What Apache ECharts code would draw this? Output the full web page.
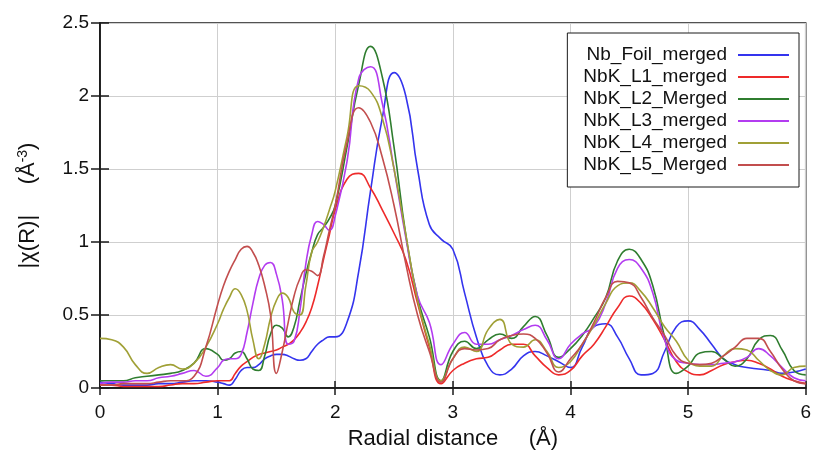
<!DOCTYPE html>
<html>
<head>
<meta charset="utf-8">
<script src="https://cdn.jsdelivr.net/npm/echarts@6/dist/echarts.min.js"></script>
<style>
html,body{margin:0;padding:0;background:#fff;}
#chart{width:814px;height:455px;}
</style>
</head>
<body>
<div id="chart"></div>
<script>
// radial distance (Å), finer in the 1-2 Å range
const radius = [0,0.1,0.2,0.3,0.4,0.5,0.6,0.7,0.8,0.9,
   1.0,1.05,1.1,1.15,1.2,1.25,1.3,1.35,1.4,1.45,1.5,1.55,1.6,1.65,1.7,1.75,1.8,1.85,1.9,1.95,2.0,
   2.1,2.2,2.3,2.4,2.5,2.6,2.7,2.8,2.9,
   3.0,3.1,3.2,3.3,3.4,3.5,3.6,3.7,3.8,3.9,
   4.0,4.1,4.2,4.3,4.4,4.5,4.6,4.7,4.8,4.9,
   5.0,5.1,5.2,5.3,5.4,5.5,5.6,5.7,5.8,5.9,6.0];

const nbFoil = [0.04,0.03,0.02,0.02,0.02,0.03,0.03,0.04,0.05,0.05,
   0.04,0.03,0.02,0.06,0.12,0.14,0.14,0.16,0.20,0.22,0.23,0.23,0.22,0.20,0.19,0.20,0.25,0.30,0.33,0.35,0.35,
   0.45,0.80,1.35,1.85,2.16,2.00,1.50,1.12,1.02,
   0.95,0.65,0.35,0.15,0.09,0.13,0.22,0.25,0.22,0.18,
   0.14,0.28,0.42,0.44,0.35,0.20,0.09,0.10,0.25,0.42,
   0.46,0.40,0.30,0.20,0.16,0.14,0.13,0.12,0.10,0.11,0.13];

const nbkL1 = [0.02,0.02,0.01,0.01,0.01,0.01,0.02,0.03,0.03,0.04,
   0.05,0.05,0.05,0.10,0.15,0.18,0.21,0.23,0.24,0.25,0.26,0.28,0.30,0.33,0.38,0.45,0.55,0.70,0.88,1.05,1.22,
   1.43,1.47,1.37,1.22,1.06,0.88,0.58,0.28,0.03,
   0.12,0.17,0.20,0.21,0.26,0.30,0.30,0.22,0.14,0.09,
   0.12,0.22,0.30,0.42,0.55,0.63,0.58,0.47,0.33,0.18,
   0.11,0.09,0.12,0.16,0.18,0.19,0.17,0.13,0.08,0.05,0.03];

const nbkL2 = [0.05,0.05,0.05,0.07,0.08,0.09,0.10,0.12,0.17,0.27,
   0.23,0.19,0.20,0.24,0.25,0.20,0.13,0.12,0.22,0.37,0.43,0.41,0.35,0.42,0.60,0.78,0.93,1.05,1.10,1.16,1.25,
   1.65,2.08,2.34,2.13,1.65,1.05,0.62,0.35,0.05,
   0.25,0.32,0.27,0.33,0.37,0.34,0.42,0.49,0.36,0.21,
   0.27,0.36,0.48,0.62,0.87,0.95,0.88,0.70,0.35,0.10,
   0.15,0.24,0.25,0.20,0.15,0.20,0.33,0.36,0.26,0.12,0.09];

const nbkL3 = [0.03,0.04,0.04,0.05,0.05,0.07,0.08,0.10,0.12,0.08,
   0.14,0.19,0.20,0.20,0.23,0.38,0.58,0.75,0.84,0.86,0.78,0.60,0.30,0.32,0.53,0.85,1.05,1.14,1.12,1.08,1.18,
   1.55,2.12,2.20,1.95,1.50,1.03,0.63,0.45,0.16,
   0.30,0.38,0.30,0.30,0.33,0.36,0.40,0.43,0.33,0.20,
   0.30,0.37,0.42,0.58,0.82,0.88,0.82,0.65,0.33,0.19,
   0.17,0.16,0.16,0.17,0.18,0.21,0.27,0.22,0.14,0.07,0.05];

const nbkL4 = [0.34,0.33,0.28,0.16,0.10,0.14,0.16,0.13,0.17,0.28,
   0.44,0.54,0.62,0.68,0.64,0.53,0.33,0.20,0.30,0.48,0.60,0.65,0.62,0.52,0.50,0.70,0.93,1.00,1.10,1.22,1.35,
   1.72,2.07,2.03,1.85,1.50,1.05,0.60,0.30,0.05,
   0.20,0.28,0.25,0.40,0.47,0.30,0.28,0.33,0.25,0.14,
   0.18,0.30,0.43,0.58,0.70,0.72,0.66,0.55,0.42,0.32,
   0.19,0.15,0.15,0.22,0.27,0.26,0.19,0.12,0.09,0.14,0.15];

const nbkL5 = [0.02,0.02,0.03,0.03,0.03,0.04,0.05,0.05,0.08,0.28,
   0.57,0.70,0.80,0.88,0.95,0.97,0.93,0.84,0.70,0.50,0.10,0.25,0.45,0.63,0.75,0.81,0.80,0.77,0.90,1.08,1.25,
   1.68,1.92,1.82,1.58,1.25,0.85,0.50,0.25,0.04,
   0.20,0.27,0.26,0.27,0.33,0.36,0.37,0.34,0.24,0.11,
   0.20,0.30,0.45,0.62,0.73,0.72,0.62,0.48,0.36,0.22,
   0.17,0.16,0.17,0.22,0.28,0.34,0.34,0.25,0.13,0.05,0.03];

const seriesNames = ['Nb_Foil_merged','NbK_L1_merged','NbK_L2_Merged','NbK_L3_merged','NbK_L4_merged','NbK_L5_Merged'];
const seriesValues = [nbFoil, nbkL1, nbkL2, nbkL3, nbkL4, nbkL5];
const colors = ['#3434ee','#ee2a2a','#2f7d2f','#b33cf0','#a0a036','#c24e4e'];

const font = 'Arial, "Liberation Sans", sans-serif';
const chart = echarts.init(document.getElementById('chart'));

const pairs = (vals)=>radius.map((r,i)=>[r, vals[i]]);

const option = {
   animation: false,
   backgroundColor: '#fff',
   grid: {
      left: 100, right: 6, top: 23, bottom: 67,
      show: true, borderColor: '#1a1a1a', borderWidth: 1.5
   },
   legend: {
      orient: 'vertical',
      align: 'right',
      right: 15,
      top: 33,
      padding: [11, 10, 11, 16],
      itemGap: 0,
      itemWidth: 51,
      itemHeight: 2,
      icon: 'rect',
      backgroundColor: '#fff',
      borderColor: '#1a1a1a',
      borderWidth: 1,
      borderRadius: 0,
      data: seriesNames,
      textStyle: {
         fontFamily: font, fontSize: 19, color: '#111', lineHeight: 22,
         padding: [0, 6, 0, 0]
      }
   },
   xAxis: [
      {
         type: 'value', min: 0, max: 6, interval: 1, position: 'bottom',
         name: 'Radial distance     (Å)', nameLocation: 'middle', nameGap: 40,
         nameTextStyle: { fontFamily: font, fontSize: 22, color: '#111' },
         axisLine: { lineStyle: { color: '#1a1a1a', width: 1.5 } },
         axisTick: { inside: true, length: 7, lineStyle: { color: '#1a1a1a', width: 1.5 } },
         axisLabel: { fontFamily: font, fontSize: 19, color: '#111', margin: 15 },
         splitLine: { show: true, lineStyle: { color: '#cfcfcf', width: 1 } }
      },
      {
         type: 'value', min: 0, max: 6, interval: 1, position: 'top',
         axisLine: { lineStyle: { color: '#1a1a1a', width: 1.5 } },
         axisTick: { inside: true, length: 7, lineStyle: { color: '#1a1a1a', width: 1.5 } },
         axisLabel: { show: false },
         splitLine: { show: false }
      }
   ],
   yAxis: [
      {
         type: 'value', min: 0, max: 2.5, interval: 0.5, position: 'left',
         name: '{a||χ(R)|     (Å}{s|-3}{a|)}', nameLocation: 'middle', nameGap: 60, nameRotate: 90,
         nameTextStyle: {
            fontFamily: font, fontSize: 22, color: '#111',
            rich: {
               a: { fontFamily: font, fontSize: 22, color: '#111' },
               s: { fontFamily: font, fontSize: 14, color: '#111', padding: [0, 0, 10, 0] }
            }
         },
         axisLine: { show: true, lineStyle: { color: '#1a1a1a', width: 1.5 } },
         axisTick: { show: true, inside: true, length: 9, lineStyle: { color: '#1a1a1a', width: 1.5 } },
         axisLabel: { fontFamily: font, fontSize: 19, color: '#111', margin: 11 },
         splitLine: { show: true, lineStyle: { color: '#cfcfcf', width: 1 } }
      },
      {
         type: 'value', min: 0, max: 2.5, interval: 0.5, position: 'right',
         axisLine: { show: true, lineStyle: { color: '#1a1a1a', width: 1.5 } },
         axisTick: { show: true, inside: true, length: 9, lineStyle: { color: '#1a1a1a', width: 1.5 } },
         axisLabel: { show: false },
         splitLine: { show: false }
      }
   ],
   series: seriesNames.map((name, i)=>({
      name,
      type: 'line',
      data: pairs(seriesValues[i]),
      smooth: true,
      symbol: 'none',
      color: colors[i],
      lineStyle: { width: 1.6, color: colors[i] }
   }))
};
chart.setOption(option);
</script>
</body>
</html>
